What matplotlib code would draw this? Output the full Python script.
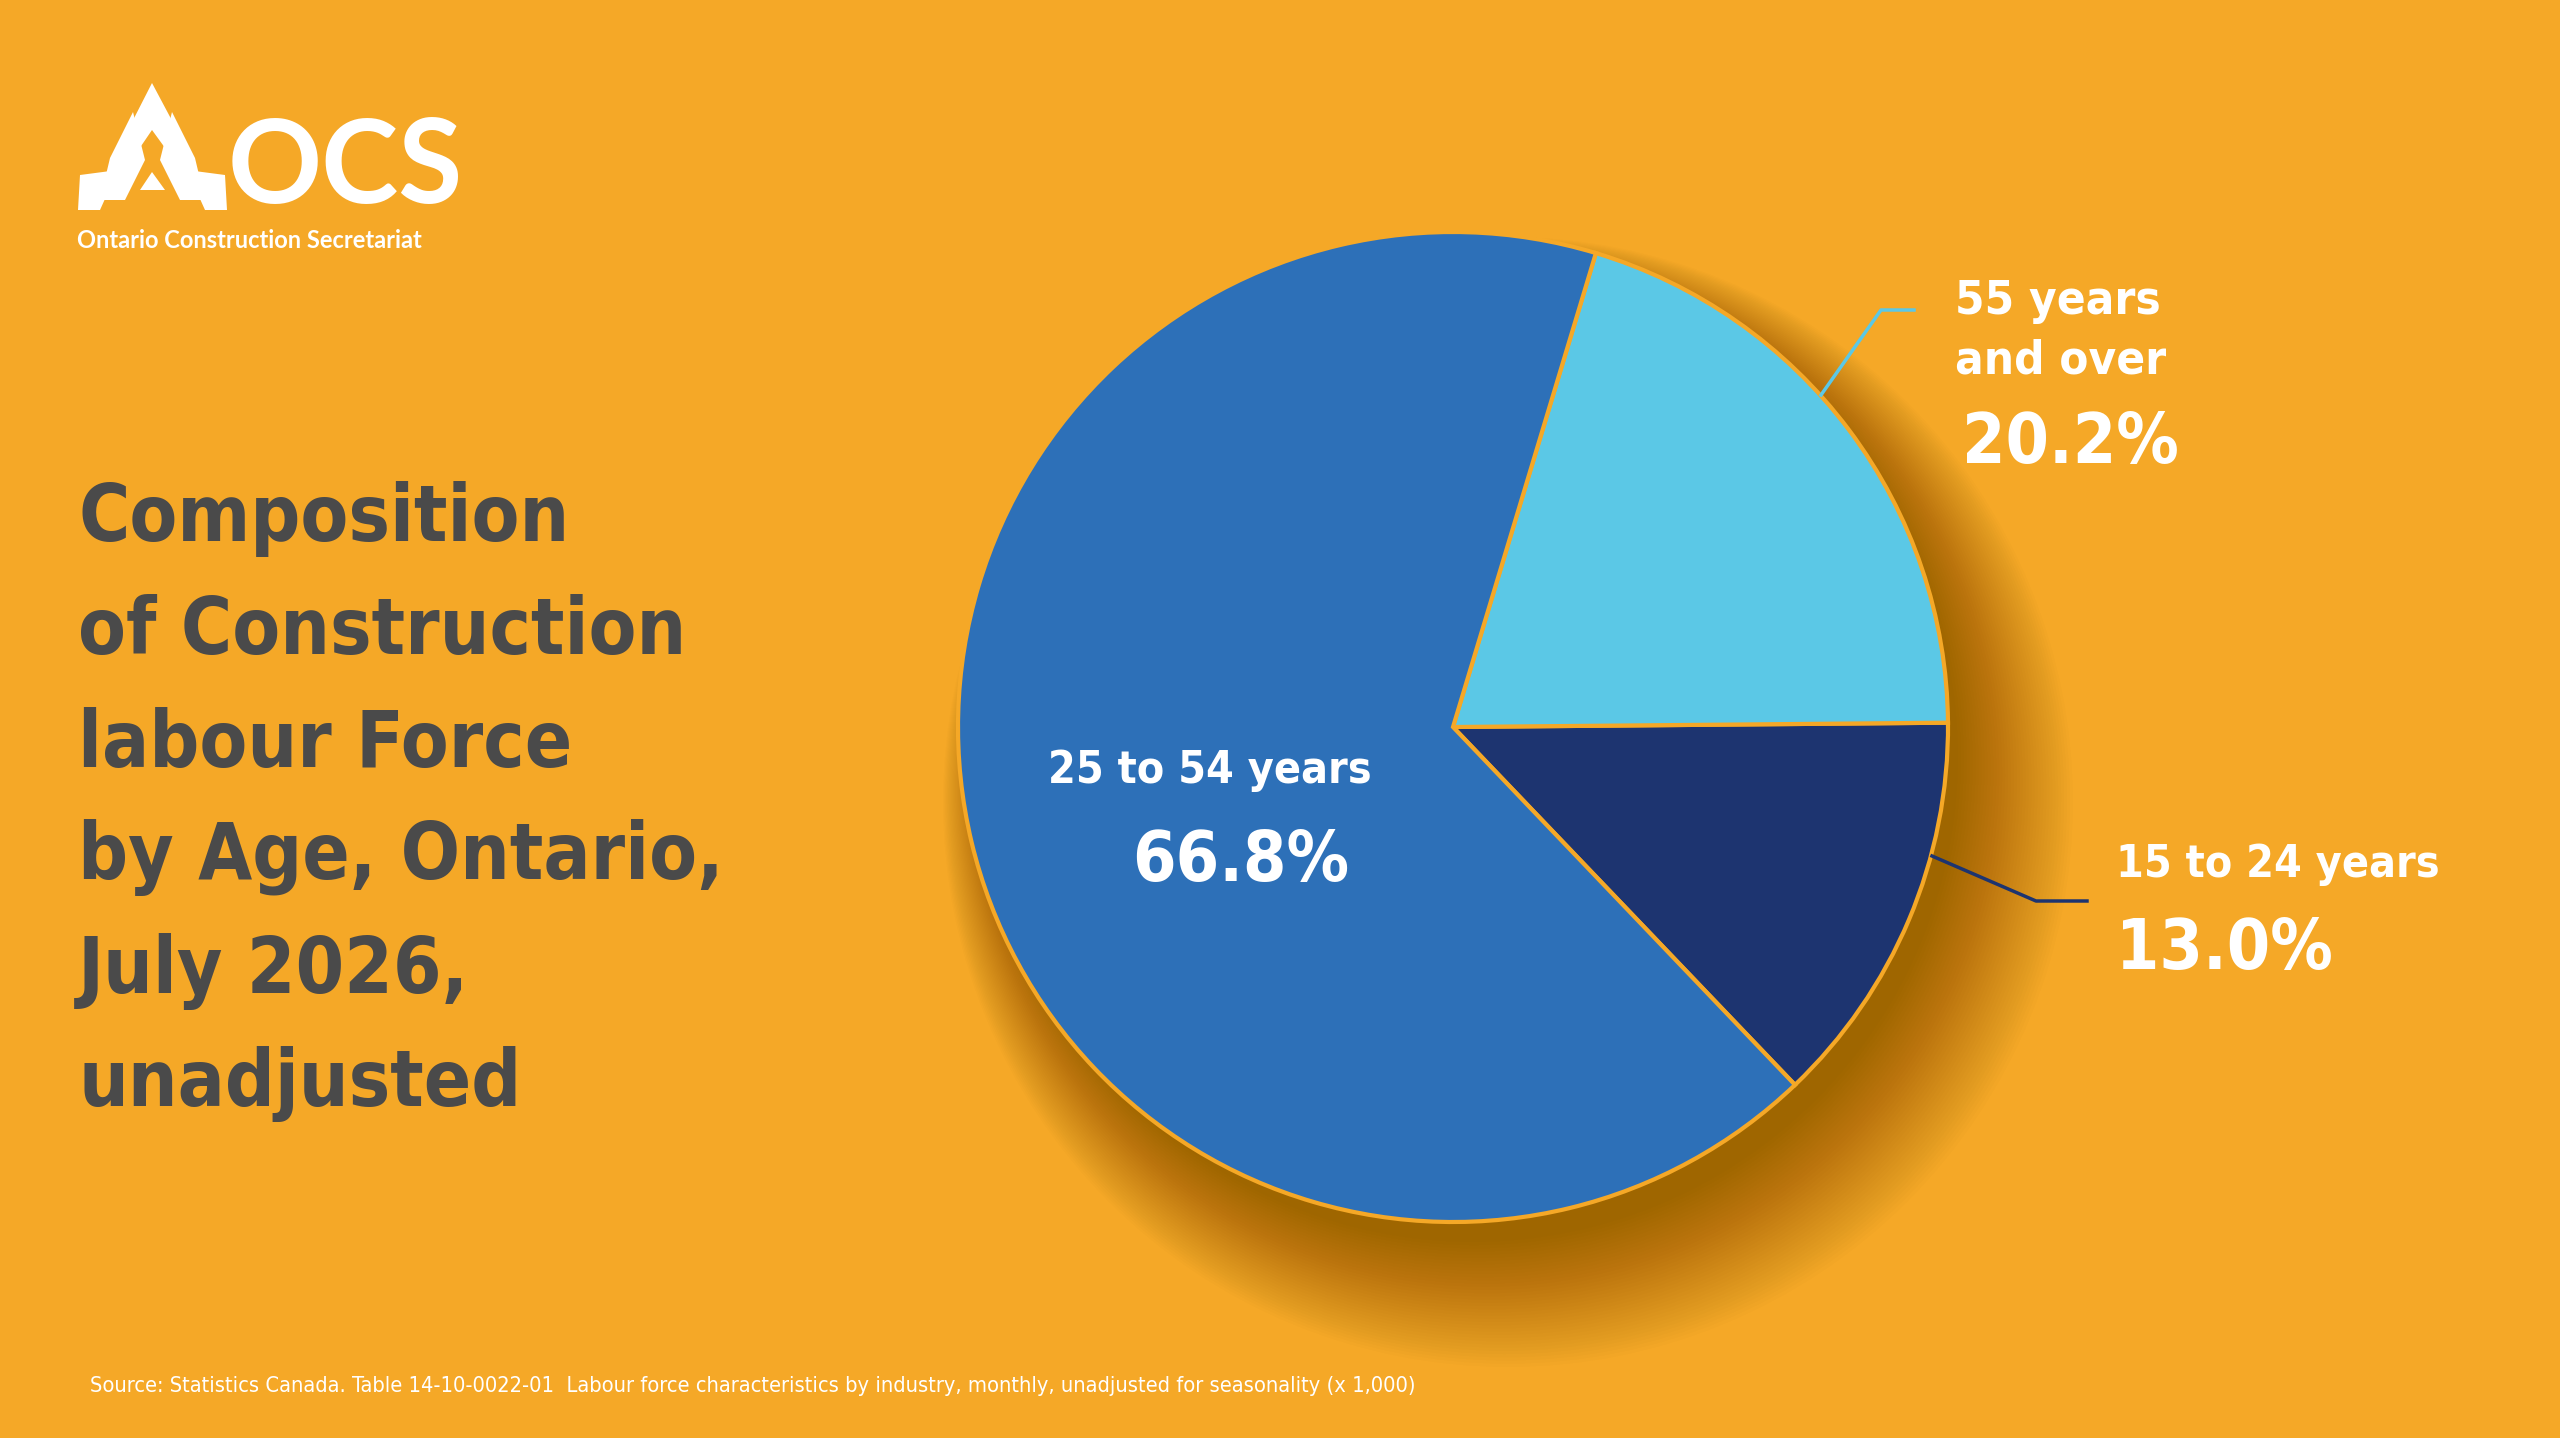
import matplotlib.pyplot as plt
from matplotlib.patches import Circle, Polygon

W, H = 2560, 1438
BG = "#f5a827"

labels = ["15 to 24 years", "55 years\nand over", "25 to 54 years"]
shares = [13.0, 20.2, 66.8]
colors = ["#1d3470", "#5bc8e6", "#2d70b8"]

title_lines = ["Composition", "of Construction", "labour Force",
               "by Age, Ontario,", "July 2026,", "unadjusted"]
source = ("Source: Statistics Canada. Table 14-10-0022-01  Labour force characteristics "
          "by industry, monthly, unadjusted for seasonality (x 1,000)")

COND = ["DejaVu Sans"]

fig = plt.figure(figsize=(W / 100, H / 100), dpi=100)
fig.patch.set_facecolor(BG)
ax = fig.add_axes([0, 0, 1, 1])


def Y(y):
    return H - y


cx, cy, r = 1453, Y(727), 495

# soft shadow to the lower right
for i in range(40):
    k = i / 39
    ax.add_patch(Circle((cx + 55 - 35 * k, cy - 75 + 45 * k), r + 70 - 80 * k,
                        color="#3a2000", alpha=0.013, lw=0, zorder=1))

ax.pie(shares, colors=colors, startangle=-46.3, center=(cx, cy), radius=r,
       wedgeprops=dict(edgecolor=BG, linewidth=3, zorder=2), frame=True)
ax.set_xlim(0, W)
ax.set_ylim(0, H)
ax.set_aspect("equal")
ax.axis("off")

# leader lines
ax.plot([1821, 1881, 1914], [Y(395), Y(310), Y(310)], color="#5bc8e6", lw=2.5)
ax.plot([1932, 2036, 2087], [Y(856), Y(901), Y(901)], color="#1d3470", lw=2.5)

txt = dict(color="white", fontweight="bold", family=COND, fontstretch="condensed")
ax.text(1955, Y(302), "55 years", fontsize=34, va="center", **txt)
ax.text(1955, Y(361), "and over", fontsize=34, va="center", **txt)
ax.text(1962, Y(444), f"{shares[1]:.1f}%", fontsize=50, va="center", **txt)
ax.text(2116, Y(865), labels[0], fontsize=32, va="center", **txt)
ax.text(2116, Y(950), f"{shares[0]:.1f}%", fontsize=50, va="center", **txt)
ax.text(1210, Y(771), labels[2], fontsize=32, va="center", ha="center", **txt)
ax.text(1241, Y(862), f"{shares[2]:.1f}%", fontsize=50, va="center", ha="center", **txt)

for i, line in enumerate(title_lines):
    ax.text(78, Y(519 + i * 113), line, fontsize=56, va="center",
            color="#4a4a4a", fontweight="bold", family=COND, fontstretch="condensed")

ax.text(90, Y(1386), source, fontsize=15.7, va="center", color="white",
        family=COND, fontstretch="condensed")

# logo
logo = [
    [(152, 83), (177, 130), (168, 152), (152, 130), (137, 152), (128, 130)],
    [(133, 112), (145, 160), (125, 200), (100, 200), (110, 158)],
    [(172, 112), (195, 158), (205, 200), (180, 200), (160, 160)],
    [(80, 175), (118, 170), (100, 210), (78, 210)],
    [(225, 175), (187, 170), (205, 210), (227, 210)],
    [(140, 190), (165, 190), (152, 172)],
]
for pts in logo:
    ax.add_patch(Polygon([(x, Y(y)) for x, y in pts], color="white", lw=0))
ax.text(228, Y(170), "OCS", fontsize=84, color="white", fontweight="bold",
        va="center", family=["Lato", "DejaVu Sans"])
ax.text(77, Y(241), "Ontario Construction Secretariat", fontsize=17,
        color="white", fontweight="bold", va="center", family=["Lato", "DejaVu Sans"])

fig.savefig("out.png", dpi=100, facecolor=BG)
